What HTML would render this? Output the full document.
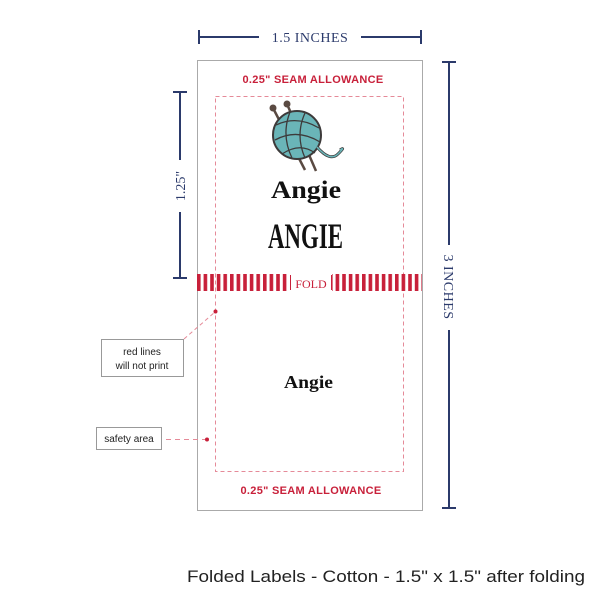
<!DOCTYPE html>
<html><head><style>
body{margin:0;background:#fff;}
svg{display:block}
</style></head><body>
<svg width="600" height="600" viewBox="0 0 600 600" xmlns="http://www.w3.org/2000/svg">
<defs>
<pattern id="st" x="197" y="0" width="6.6" height="10" patternUnits="userSpaceOnUse">
<rect x="0" y="0" width="3.6" height="10" fill="#c8203a"/>
</pattern>
</defs>
<rect x="197.5" y="60.5" width="225" height="450" fill="#fff" stroke="#aaa" stroke-width="1"/>
<rect x="215.5" y="96.5" width="188" height="375" fill="none" stroke="#e58a98" stroke-width="1" stroke-dasharray="4,3"/>
<text x="313" y="83" text-anchor="middle" font-family="Liberation Sans, sans-serif" font-size="11" font-weight="bold" fill="#c8203a" letter-spacing="0.3">0.25" SEAM ALLOWANCE</text>
<text x="311" y="494" text-anchor="middle" font-family="Liberation Sans, sans-serif" font-size="11" font-weight="bold" fill="#c8203a" letter-spacing="0.3">0.25" SEAM ALLOWANCE</text>
<rect x="197" y="274" width="92" height="17" fill="url(#st)"/>
<rect x="332" y="274" width="90" height="17" fill="url(#st)"/>
<line x1="290.5" y1="275" x2="290.5" y2="290" stroke="#c8203a"/>
<line x1="331.5" y1="275" x2="331.5" y2="290" stroke="#c8203a"/>
<text x="311" y="288" text-anchor="middle" font-family="Liberation Serif, serif" font-size="12" fill="#c8203a">FOLD</text>
<line x1="273" y1="108" x2="305" y2="170" stroke="#5a4a42" stroke-width="2.5"/>
<line x1="287" y1="104" x2="316" y2="171" stroke="#5a4a42" stroke-width="2.5"/>
<circle cx="297" cy="135" r="24" fill="#6ab5b8" stroke="#3d3a3a" stroke-width="2"/>
<path d="M276 125 Q297 115 319 128 M275 140 Q297 128 320 142 M282 154 Q300 142 315 153 M290 112 Q281 135 292 158 M305 113 Q295 135 305 158" fill="none" stroke="#3d3a3a" stroke-width="1.3"/>
<path d="M317 147 Q330 162 338 154 Q346 146 340 150" fill="none" stroke="#3d3a3a" stroke-width="3"/>
<path d="M317 147 Q330 162 338 154 Q346 146 340 150" fill="none" stroke="#6ab5b8" stroke-width="1.5"/>
<circle cx="273" cy="108" r="3.5" fill="#5a4a42"/>
<circle cx="287" cy="104" r="3.5" fill="#5a4a42"/>
<text x="271" y="198" textLength="70" lengthAdjust="spacingAndGlyphs" font-family="Liberation Serif, serif" font-size="25" font-weight="bold" fill="#111">Angie</text>
<text x="268" y="248" textLength="75" lengthAdjust="spacingAndGlyphs" font-family="Liberation Serif, serif" font-size="36" font-weight="bold" fill="#111">ANGIE</text>
<text x="284" y="388" textLength="49" lengthAdjust="spacingAndGlyphs" font-family="Liberation Serif, serif" font-size="18" font-weight="bold" fill="#111">Angie</text>
<g stroke="#2b3a6b" stroke-width="2" fill="none">
<line x1="199" y1="37" x2="259" y2="37"/><line x1="361" y1="37" x2="421" y2="37"/>
<line x1="199" y1="30" x2="199" y2="44"/><line x1="421" y1="30" x2="421" y2="44"/>
<line x1="180" y1="92" x2="180" y2="160"/><line x1="180" y1="212" x2="180" y2="278"/>
<line x1="173" y1="92" x2="187" y2="92"/><line x1="173" y1="278" x2="187" y2="278"/>
<line x1="449" y1="62" x2="449" y2="245"/><line x1="449" y1="330" x2="449" y2="508"/>
<line x1="442" y1="62" x2="456" y2="62"/><line x1="442" y1="508" x2="456" y2="508"/>
</g>
<text x="310" y="42" text-anchor="middle" font-family="Liberation Serif, serif" font-size="14" fill="#2b3a6b" letter-spacing="0.5">1.5 INCHES</text>
<text transform="translate(185 186) rotate(-90)" text-anchor="middle" font-family="Liberation Serif, serif" font-size="14" fill="#2b3a6b">1.25"</text>
<text transform="translate(444 287) rotate(90)" text-anchor="middle" font-family="Liberation Serif, serif" font-size="14" fill="#2b3a6b" letter-spacing="0.5">3 INCHES</text>
<rect x="101.5" y="339.5" width="82" height="37" fill="#fff" stroke="#999"/>
<text x="142" y="355" text-anchor="middle" font-family="Liberation Sans, sans-serif" font-size="10" fill="#222">red lines</text>
<text x="142" y="369" text-anchor="middle" font-family="Liberation Sans, sans-serif" font-size="10" fill="#222">will not print</text>
<line x1="184" y1="339" x2="215" y2="312" stroke="#e58a98" stroke-dasharray="4,3"/>
<circle cx="215.5" cy="311.5" r="2" fill="#c8203a"/>
<rect x="96.5" y="427.5" width="65" height="22" fill="#fff" stroke="#999"/>
<text x="129" y="442" text-anchor="middle" font-family="Liberation Sans, sans-serif" font-size="10" fill="#222">safety area</text>
<line x1="166" y1="439.5" x2="205" y2="439.5" stroke="#e58a98" stroke-dasharray="5,4"/>
<circle cx="207" cy="439.5" r="2" fill="#c8203a"/>
<text x="187" y="582" textLength="398" lengthAdjust="spacingAndGlyphs" font-family="Liberation Sans, sans-serif" font-size="16.5" fill="#222">Folded Labels - Cotton - 1.5" x 1.5" after folding</text>
</svg>
</body></html>
